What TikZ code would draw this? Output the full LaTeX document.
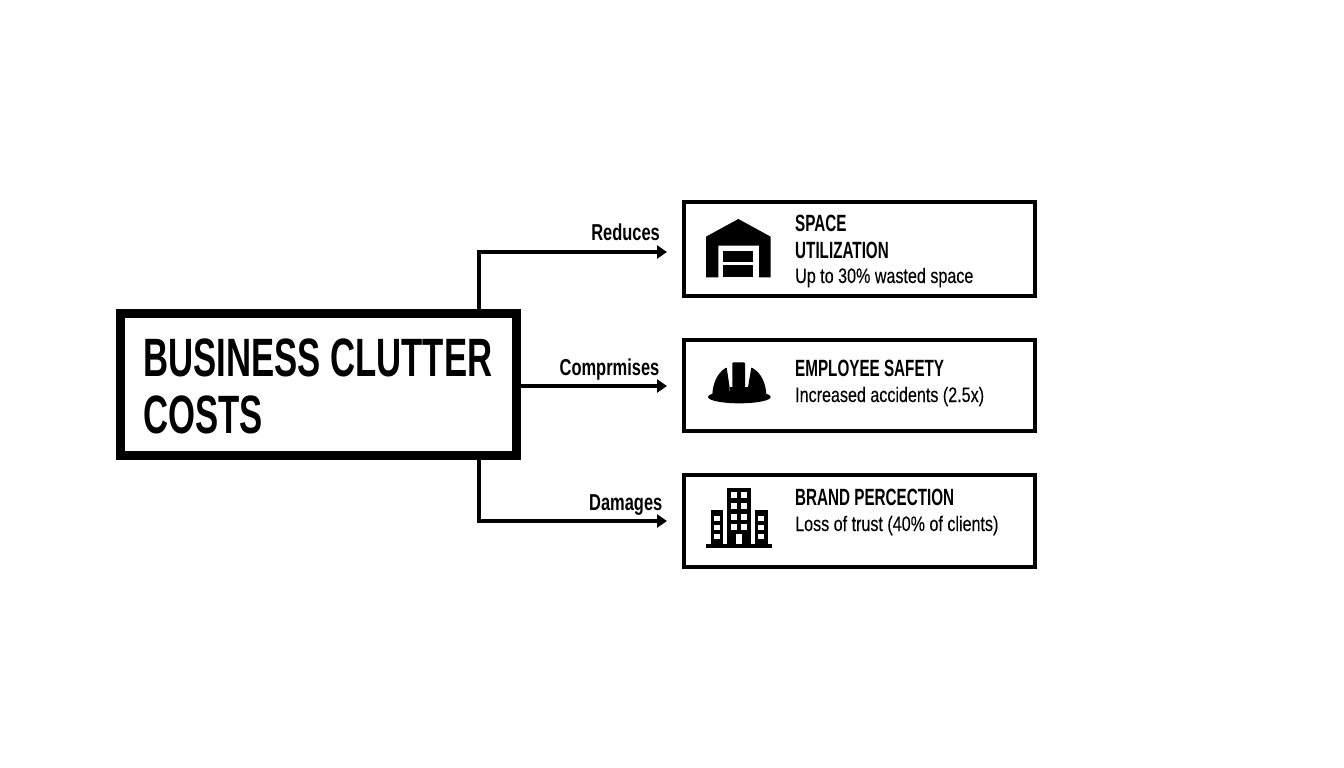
\documentclass[tikz,border=0pt]{standalone}
\usepackage{fontspec}
\usetikzlibrary{arrows.meta,calc}
\setmainfont{Liberation Sans}
\newfontfamily\bigfont[FakeStretch=0.643]{Liberation Sans}
\newfontfamily\headfont[FakeStretch=0.648]{Liberation Sans}
\newfontfamily\subfont[FakeStretch=0.767,FakeBold=0.15]{Liberation Sans}
\newfontfamily\labfont[FakeStretch=0.715]{Liberation Sans}
\tikzset{
  mainbox/.style={draw=black,fill=white,line width=9pt,inner sep=0pt,minimum width=396pt,minimum height=142pt},
  itembox/.style={draw=black,fill=white,line width=4pt,inner sep=0pt,minimum width=351pt},
  conn/.style={draw=black,line width=4pt,-{Triangle[length=10pt,width=13pt]}},
  bigtext/.style={anchor=base west,inner sep=0pt,font=\bigfont\bfseries\fontsize{54}{54}\selectfont},
  headtext/.style={anchor=base west,inner sep=0pt,font=\headfont\bfseries\fontsize{23.5}{23.5}\selectfont},
  subtext/.style={anchor=base west,inner sep=0pt,font=\subfont\fontsize{21}{21}\selectfont},
  labtext/.style={anchor=base east,inner sep=0pt,font=\labfont\bfseries\fontsize{23}{23}\selectfont},
  icon/.style={fill=black,draw=none},
  hole/.style={fill=white,draw=none}
}
\begin{document}
\begin{tikzpicture}[x=1pt,y=-1pt]
\useasboundingbox[fill=white] (0,0) rectangle (1344,768);
% boxes
\node[mainbox] (main) at (318.5,384.5) {};
\node[itembox,minimum height=94pt] (box1) at (859.5,249) {};
\node[itembox,minimum height=91pt] (box2) at (859.5,385.5) {};
\node[itembox,minimum height=92pt] (box3) at (859.5,521) {};
% connector ends
\coordinate (end1) at (667,252);
\coordinate (end2) at (667,386);
\coordinate (end3) at (667,521);
\coordinate (elbow) at (479,384.5);
\draw[conn] (main.north -| elbow) |- (end1);
\draw[conn] (main.east |- end2) -- (end2);
\draw[conn] (main.south -| elbow) |- (end3);
% labels
\node[labtext] (l1) at (660,240) {Reduces};
\node[labtext] (l2) at (659.5,375) {Comprmises};
\node[labtext] (l3) at (662.5,510) {Damages};
% main text
\node[bigtext] (t1) at (143,376) {BUSINESS CLUTTER};
\node[bigtext] (t2) at (143,433) {COSTS};
% item text
\node[headtext] (h1a) at (795,231) {SPACE};
\node[headtext] (h1b) at (795,258) {UTILIZATION};
\node[subtext] (s1) at (795,283) {Up to 30\% wasted space};
\node[headtext] (h2) at (795,376) {EMPLOYEE SAFETY};
\node[subtext] (s2) at (795,402) {Increased accidents (2.5x)};
\node[headtext] (h3) at (795,505) {BRAND PERCECTION};
\node[subtext] (s3) at (795,531) {Loss of trust (40\% of clients)};
% warehouse icon
\begin{scope}[shift={(680,190)},x=0.3333pt,y=-0.3333pt]
\fill[icon] (78,140) -- (175,87) -- (272,140) -- (272,262) -- (237,262) -- (237,167) -- (115,167) -- (115,262) -- (78,262) -- cycle;
\fill[icon] (130,183) rectangle (220,215);
\fill[icon] (130,226) rectangle (220,260);
\end{scope}
% helmet icon
\begin{scope}[shift={(680,330)},x=0.3333pt,y=-0.3333pt]
\fill[icon] (178,201) ellipse [x radius=94,y radius=19];
\fill[icon] (97,195) .. controls (98,160) and (112,130) .. (135,115) -- (140,113) -- (149,172) -- (149,195) -- cycle;
\fill[icon] (259,195) .. controls (258,160) and (244,130) .. (219,115) -- (214,113) -- (204,172) -- (204,195) -- cycle;
\fill[icon] (157,100) .. controls (157,98) and (158,97) .. (160,97) -- (192,97) .. controls (194,97) and (195,98) .. (195,100) -- (195,195) -- (157,195) -- cycle;
\fill[icon] (149,172) rectangle (204,195);
\end{scope}
% building icon
\begin{scope}[shift={(680,465)},x=0.3333pt,y=-0.3333pt]
\fill[icon] (78,236) rectangle (275,250);
\fill[icon] (140,68) rectangle (214,238);
\fill[icon] (92,135) rectangle (130,238);
\fill[icon] (224,135) rectangle (263,238);
\foreach \yy in {82,113,146,176}{
  \fill[hole] (153,\yy) rectangle +(17,18);
  \fill[hole] (184,\yy) rectangle +(17,18);
}
\foreach \yy in {152,179,206}{
  \fill[hole] (103,\yy) rectangle +(17,16);
  \fill[hole] (235,\yy) rectangle +(17,16);
}
\fill[hole] (168,208) rectangle (186,236);
\end{scope}
\end{tikzpicture}
\end{document}
